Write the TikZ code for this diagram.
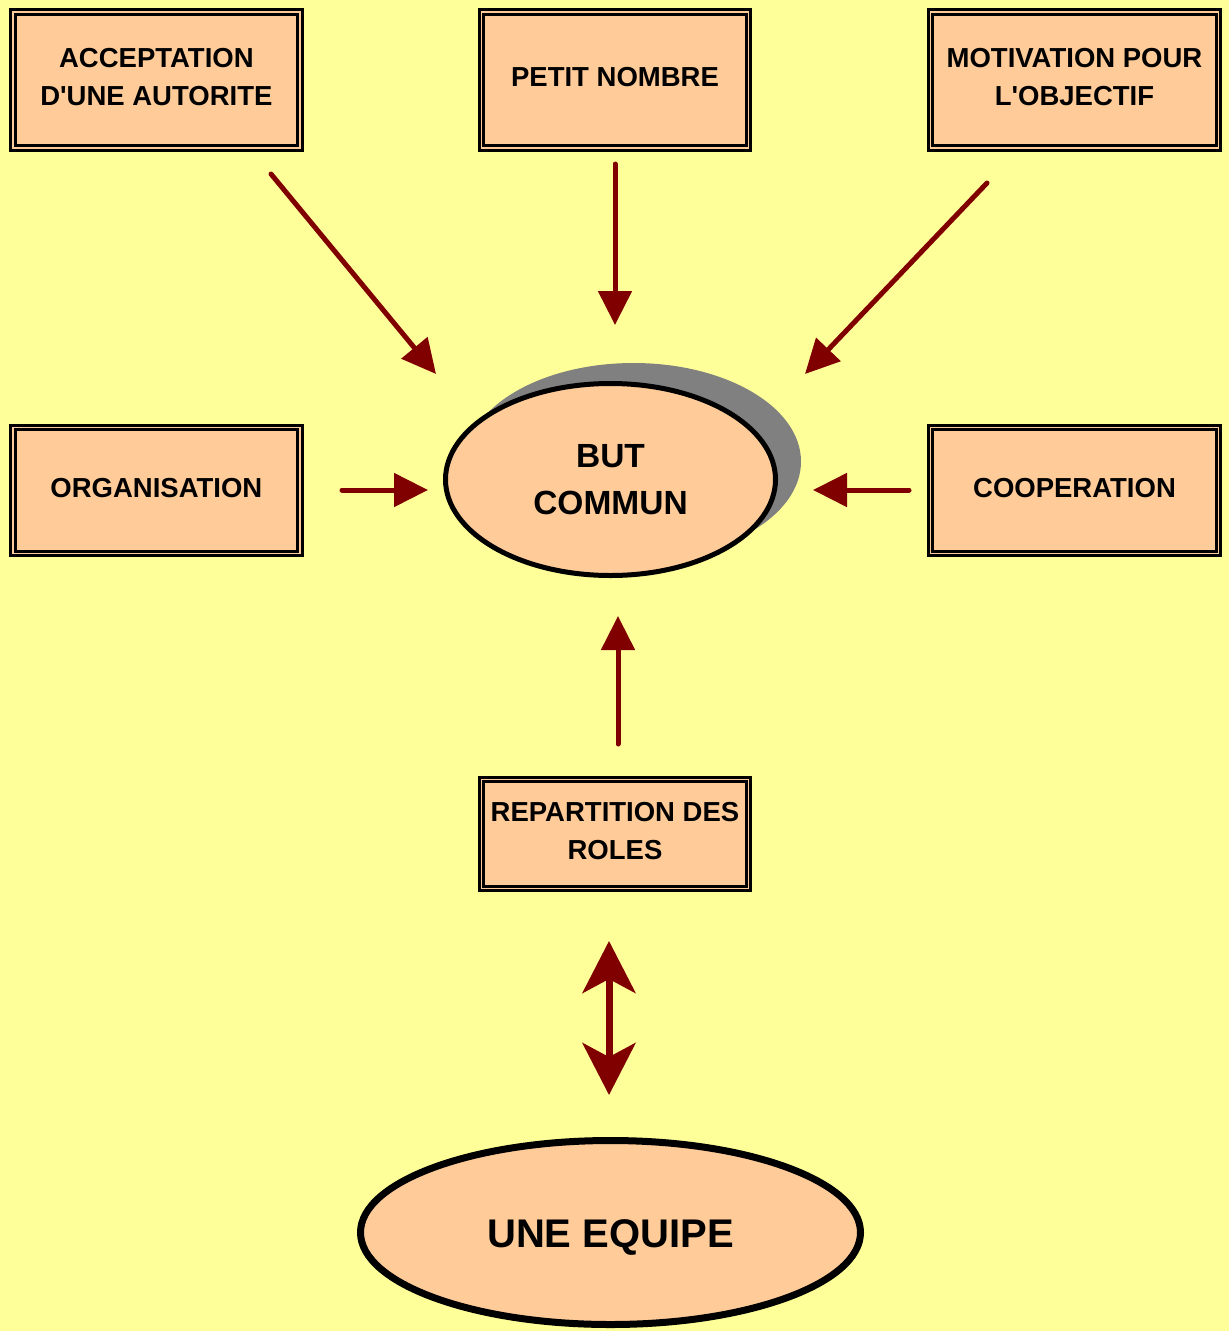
\documentclass[tikz,border=0pt]{standalone}
\usepackage{fontspec}
\setmainfont{Liberation Sans}
\usetikzlibrary{shapes.geometric,arrows.meta}
\definecolor{bgyellow}{HTML}{FFFF99}
\definecolor{boxfill}{HTML}{FFCC99}
\definecolor{arrowred}{HTML}{800000}
\definecolor{shadowgray}{HTML}{808080}
\newcommand{\apos}{\textquotesingle}
\tikzset{
  boxnode/.style={draw=black, line width=3pt, double=boxfill, double distance=1.5pt,
    fill=boxfill, rectangle, inner sep=0pt, align=center, text depth=6pt,
    font=\fontsize{27.5}{38}\selectfont\bfseries},
  ellnode/.style={draw=black, fill=boxfill, ellipse, inner sep=0pt, align=center},
  arr/.style={draw=arrowred, line width=5pt, line cap=round,
    -{Triangle[length=34pt,width=33pt]}},
  dblarr/.style={draw=arrowred, line width=7pt,
    {Stealth[length=52pt,width=53pt,inset=14pt]}-{Stealth[length=52pt,width=53pt,inset=14pt]}},
}
\begin{document}
\begin{tikzpicture}[x=1pt,y=-1pt]
\useasboundingbox (0,0) rectangle (1229,1331);
\fill[bgyellow] (0,0) rectangle (1229,1331);

% boxes
\node[boxnode, minimum width=287pt, minimum height=136pt] (acc) at (156.4,79.8) {ACCEPTATION\\D\apos UNE AUTORITE};
\node[boxnode, minimum width=267pt, minimum height=136pt] (pet) at (615,79.8) {PETIT NOMBRE};
\node[boxnode, minimum width=288pt, minimum height=136pt] (mot) at (1074.5,79.8) {MOTIVATION POUR\\L\apos OBJECTIF};
\node[boxnode, minimum width=287pt, minimum height=126pt] (org) at (156.4,490.5) {ORGANISATION};
\node[boxnode, minimum width=288pt, minimum height=126pt] (coo) at (1074.5,490.5) {COOPERATION};
\node[boxnode, minimum width=267pt, minimum height=109pt] (rep) at (615,834) {REPARTITION DES\\ROLES};

% ellipses
\fill[shadowgray] (633.5,461.5) ellipse [x radius=167.5, y radius=98.5];
\node[ellnode, line width=5pt, minimum width=330pt, minimum height=192pt,
  font=\fontsize{33.5}{47}\selectfont\bfseries] (but) at (610.5,479.5) {BUT\\COMMUN};
\node[ellnode, line width=7pt, minimum width=500pt, minimum height=184pt, text height=37pt,
  font=\fontsize{40}{48}\selectfont\bfseries] (equ) at (610.5,1232.5) {UNE EQUIPE};

% arrow end points
\coordinate (a1s) at (271,174);  \coordinate (a1e) at (436,374);
\coordinate (a2s) at (615,164);  \coordinate (a2e) at (615,325);
\coordinate (a3s) at (987,183);  \coordinate (a3e) at (805,374);
\coordinate (a4s) at (342,490);  \coordinate (a4e) at (428,490);
\coordinate (a5s) at (909,490);  \coordinate (a5e) at (813,490);
\coordinate (a6s) at (618,744);  \coordinate (a6e) at (618,616);
\coordinate (a7s) at (609,941);  \coordinate (a7e) at (609,1095);

\draw[arr] (a1s) -- (a1e);
\draw[arr] (a2s) -- (a2e);
\draw[arr] (a3s) -- (a3e);
\draw[arr] (a4s) -- (a4e);
\draw[arr] (a5s) -- (a5e);
\draw[arr] (a6s) -- (a6e);
\draw[dblarr] (a7s) -- (a7e);
\end{tikzpicture}
\end{document}
